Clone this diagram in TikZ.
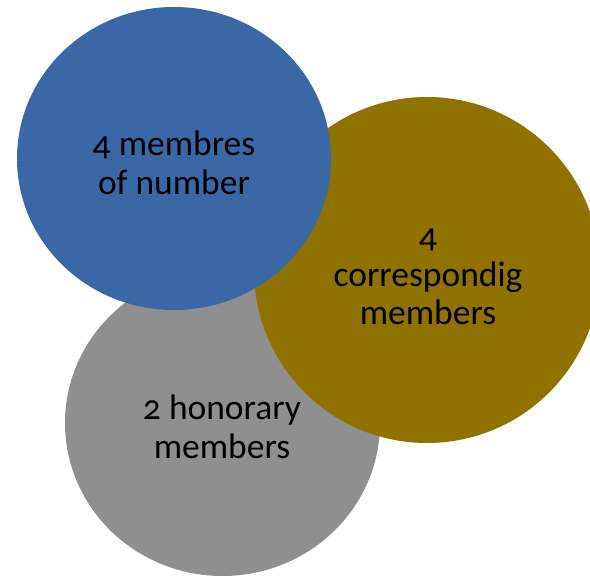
\documentclass[tikz,border=0pt]{standalone}
\usepackage{fontspec}
\setmainfont[Numbers=OldStyle]{Carlito}
\definecolor{cblue}{RGB}{58,104,166}
\definecolor{cgold}{RGB}{143,114,0}
\definecolor{cgray}{RGB}{143,143,143}
\tikzset{
  blob/.style={draw=none},
  lbl/.style={align=center, font=\fontsize{35.5}{38.5}\selectfont, text=black, inner sep=0pt}
}
\begin{document}
\begin{tikzpicture}[x=1pt,y=1pt]
\useasboundingbox (0,0) rectangle (590,576);
\begin{scope}
\clip (0,0) rectangle (590,576);
\fill[cgray,blob] (222.5,153) ellipse [x radius=157.5, y radius=153];
\fill[cgold,blob] (427,306) circle [radius=173];
\fill[cblue,blob] (174,417.5) ellipse [x radius=157, y radius=151.5];
\end{scope}
\node[lbl] (t1) at (174,413) {4 membres\\of number};
\node[lbl] (t2) at (428,299) {4\\correspondig\\members};
\node[lbl] (t3) at (222,149) {2 honorary\\members};
\end{tikzpicture}
\end{document}
